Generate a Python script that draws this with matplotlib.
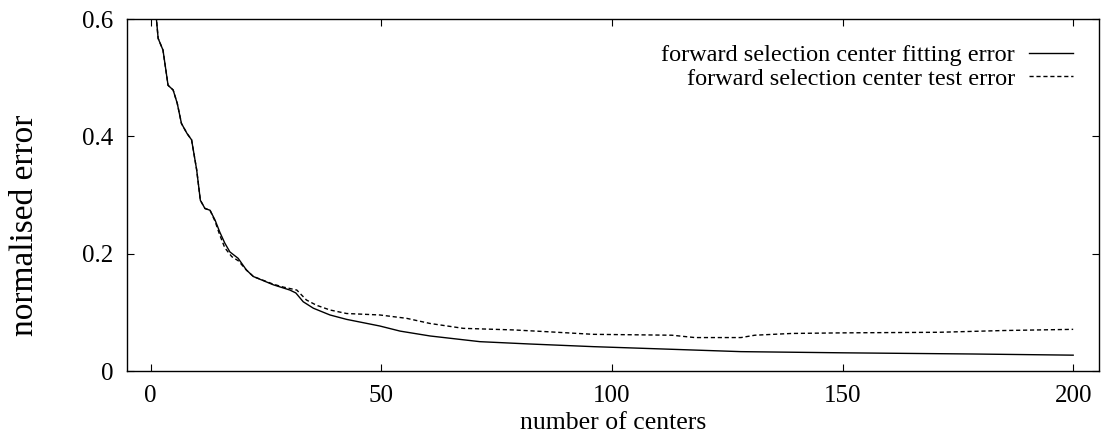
import matplotlib
matplotlib.use("Agg")
import matplotlib.pyplot as plt

plt.rcParams['font.family'] = ['Liberation Serif', 'DejaVu Serif']

# ---- data ----
fit_x = [1, 1.3, 1.65, 2.7, 3.8, 4.9, 5.8, 6.7, 7.9, 8.9, 10, 10.8, 11.8, 12.9,
         14, 15, 16.1, 17.2, 19, 20.8, 22.3, 26.6, 30.2, 31.5, 33.1, 35.3, 38.9,
         42.5, 49.7, 54.1, 60.6, 71.4, 82.3, 96, 113, 128, 150, 178, 200]
fit_y = [0.63, 0.598, 0.567, 0.547, 0.487, 0.479, 0.456, 0.422, 0.405, 0.394,
         0.343, 0.291, 0.277, 0.274, 0.257, 0.237, 0.218, 0.203, 0.192, 0.172,
         0.161, 0.147, 0.138, 0.133, 0.118, 0.107, 0.0955, 0.088, 0.0767, 0.068,
         0.0597, 0.050, 0.046, 0.0415, 0.037, 0.033, 0.031, 0.029, 0.027]

test_x = [1, 1.3, 1.65, 2.7, 3.8, 4.9, 5.8, 6.7, 7.9, 8.9, 10, 10.8, 11.8, 12.9,
          14, 15, 16.1, 17.6, 19, 20.8, 22.3, 26.6, 28.8, 31.7, 33.8, 36, 38.9,
          42.5, 49.7, 55.5, 60.6, 67.8, 78.7, 85.9, 96, 113, 118, 128, 131, 139,
          150, 171, 185, 200]
test_y = [0.63, 0.598, 0.567, 0.547, 0.487, 0.479, 0.456, 0.422, 0.405, 0.394,
          0.343, 0.291, 0.277, 0.274, 0.255, 0.232, 0.210, 0.195, 0.188, 0.172,
          0.161, 0.148, 0.143, 0.138, 0.121, 0.112, 0.104, 0.098, 0.0955, 0.0898,
          0.081, 0.0727, 0.070, 0.067, 0.0625, 0.061, 0.057, 0.057, 0.061, 0.064,
          0.065, 0.066, 0.069, 0.071]

x_ticks = [0, 50, 100, 150, 200]
y_ticks = [0, 0.2, 0.4, 0.6]
y_ticklabels = ['0', '0.2', '0.4', '0.6']
fit_label = 'forward selection center fitting error'
test_label = 'forward selection center test error'
x_title = 'number of centers'
y_title = 'normalised error'

# ---- figure ----
W, H = 1101, 437
fig = plt.figure(figsize=(W / 100, H / 100), dpi=100)
L, R, T, B = 127, 1099, 19, 371
ax = fig.add_axes([L / W, 1 - B / H, (R - L) / W, (B - T) / H])

ax.plot(fit_x, fit_y, color='black', lw=1.0, label=fit_label)
ax.plot(test_x, test_y, color='black', lw=1.0, dashes=(3, 2), label=test_label)

ax.set_xlim(-5.1, 205.6)
ax.set_ylim(0, 0.6)
ax.set_xticks(x_ticks)
ax.set_xticklabels([str(v) for v in x_ticks])
ax.set_yticks(y_ticks)
ax.set_yticklabels(y_ticklabels)
ax.tick_params(direction='in', length=5, width=0.8, top=True, right=True,
               labelsize=18, colors='black')
ax.tick_params(axis='y', pad=10)
ax.tick_params(axis='x', pad=10)
for s in ax.spines.values():
    s.set_linewidth(1.0)

ax.set_xlabel(x_title, fontsize=18.5)
ax.xaxis.set_label_coords(0.5, (B - 423) / (B - T))
ax.xaxis.label.set_va('center')
ax.set_ylabel(y_title, fontsize=24)
ax.yaxis.set_label_coords((25 - L) / (R - L), (B - 225) / (B - T))
ax.yaxis.label.set_va('center')

leg = ax.legend(loc='upper right', bbox_to_anchor=(1073 / W, 1 - 44 / H),
                bbox_transform=fig.transFigure, frameon=False, markerfirst=False,
                fontsize=17.5, handlelength=1.8, handletextpad=0.6,
                borderpad=0, borderaxespad=0, labelspacing=0.08)

fig.savefig('out.png', dpi=100)
